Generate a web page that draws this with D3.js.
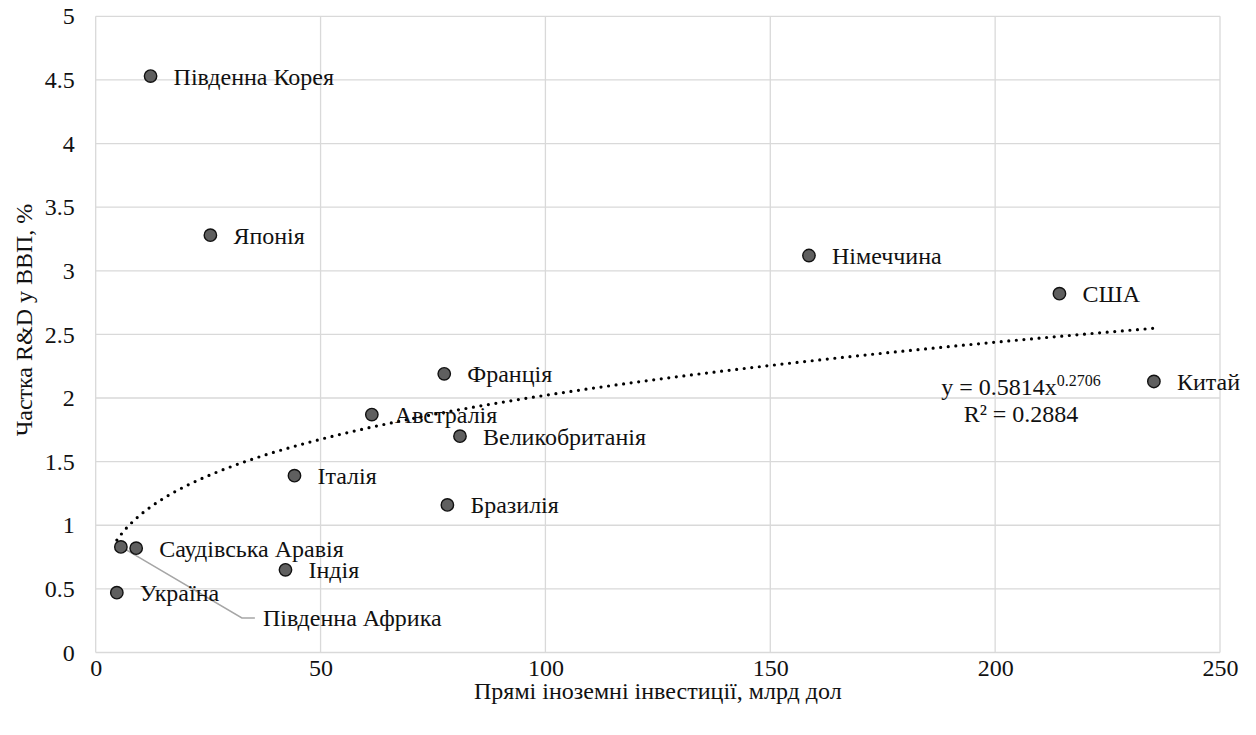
<!DOCTYPE html>
<html>
<head>
<meta charset="utf-8">
<script src="https://cdn.jsdelivr.net/npm/d3@7/dist/d3.min.js"></script>
<style>
  html, body { margin: 0; padding: 0; background: #fff; }
  svg { display: block; }
  text { font-family: "Liberation Serif", "Times New Roman", serif; fill: #111; }
</style>
</head>
<body>
<svg id="chart" width="1256" height="735"></svg>
<script>
// Foreign direct investment (bn USD) vs. R&D share of GDP (%)
const countries = ["Південна Корея", "Японія", "Німеччина", "США", "Китай", "Франція",
  "Австралія", "Великобританія", "Італія", "Бразилія", "Саудівська Аравія",
  "Південна Африка", "Індія", "Україна"];
const fdi = [12.2, 25.5, 158.6, 214.3, 235.3, 77.5, 61.4, 81.0, 44.2, 78.2, 9.0, 5.6, 42.2, 4.7];
const rdShare = [4.53, 3.28, 3.12, 2.82, 2.13, 2.19, 1.87, 1.70, 1.39, 1.16, 0.82, 0.83, 0.65, 0.47];

const xTicks = [0, 50, 100, 150, 200, 250];
const yTicks = [0, 0.5, 1, 1.5, 2, 2.5, 3, 3.5, 4, 4.5, 5];

// Power trendline y = a * x^b
const trendA = 0.5814;
const trendB = 0.2706;
const trendR2 = 0.2884;

const xTitle = "Прямі іноземні інвестиції, млрд дол";
const yTitle = "Частка R&D у ВВП, %";

const serif = '"Liberation Serif", "Times New Roman", serif';
const svg = d3.select("#chart");
const plot = { left: 95.7, right: 1220, top: 16.3, bottom: 652.5 };

const x = d3.scaleLinear().domain([0, 250]).range([plot.left, plot.right]);
const y = d3.scaleLinear().domain([0, 5]).range([plot.bottom, plot.top]);

const fontSize = 24;

// gridlines
const grid = svg.append("g").attr("stroke", "#d9d9d9").attr("stroke-width", 1.3);
grid.selectAll("line.h").data(yTicks).join("line")
  .attr("x1", plot.left).attr("x2", plot.right)
  .attr("y1", d => y(d)).attr("y2", d => y(d));
grid.selectAll("line.v").data(xTicks).join("line")
  .attr("y1", plot.top).attr("y2", plot.bottom)
  .attr("x1", d => x(d)).attr("x2", d => x(d));

// axes (labels only; grid already drawn)
const yAxis = svg.append("g")
  .attr("transform", `translate(${plot.left},0)`)
  .call(d3.axisLeft(y).tickValues(yTicks).tickSize(0).tickPadding(21).tickFormat(d3.format("~g")));
const xAxis = svg.append("g")
  .attr("transform", `translate(0,${plot.bottom})`)
  .call(d3.axisBottom(x).tickValues(xTicks).tickSize(0).tickPadding(6).tickFormat(d3.format("~g")));
[yAxis, xAxis].forEach(a => {
  a.attr("font-family", serif).attr("font-size", fontSize);
  a.select(".domain").remove();
  a.selectAll("text").attr("fill", "#111");
});

// axis titles
svg.append("text")
  .attr("x", (plot.left + plot.right) / 2)
  .attr("y", 699)
  .attr("text-anchor", "middle")
  .style("font-size", fontSize + "px")
  .text(xTitle);
svg.append("text")
  .attr("transform", `translate(32,320) rotate(-90)`)
  .attr("text-anchor", "middle")
  .style("font-size", fontSize + "px")
  .text(yTitle);

// trendline
const xMin = d3.min(fdi), xMax = d3.max(fdi);
const trendPts = d3.range(0, 201).map(i => {
  const xv = xMin + (xMax - xMin) * i / 200;
  return [xv, trendA * Math.pow(xv, trendB)];
});
svg.append("path")
  .datum(trendPts)
  .attr("fill", "none")
  .attr("stroke", "#000")
  .attr("stroke-width", 3.2)
  .attr("stroke-linecap", "round")
  .attr("stroke-dasharray", "0 7.6")
  .attr("d", d3.line().x(d => x(d[0])).y(d => y(d[1])));

// leader line for the crowded label
const data = countries.map((c, i) => ({ name: c, fdi: fdi[i], rd: rdShare[i] }));
const leaderName = "Південна Африка";
const leaderOffset = { dx: 134, dy: 71, run: 13 };
const ld = data.find(d => d.name === leaderName);
svg.append("polyline")
  .attr("fill", "none")
  .attr("stroke", "#a6a6a6")
  .attr("stroke-width", 1.5)
  .attr("points", [
    [x(ld.fdi) + 2, y(ld.rd) + 1],
    [x(ld.fdi) + leaderOffset.dx - leaderOffset.run, y(ld.rd) + leaderOffset.dy],
    [x(ld.fdi) + leaderOffset.dx, y(ld.rd) + leaderOffset.dy]
  ].map(p => p.join(",")).join(" "));

// markers
svg.append("g").selectAll("circle").data(data).join("circle")
  .attr("cx", d => x(d.fdi))
  .attr("cy", d => y(d.rd))
  .attr("r", 6.2)
  .attr("fill", "#5f5f5f")
  .attr("stroke", "#111")
  .attr("stroke-width", 1.4);

// data labels
svg.append("g").selectAll("text").data(data).join("text")
  .attr("x", d => d.name === leaderName ? x(d.fdi) + leaderOffset.dx + 8 : x(d.fdi) + 23)
  .attr("y", d => d.name === leaderName ? y(d.rd) + leaderOffset.dy : y(d.rd))
  .attr("dy", "0.35em")
  .style("font-size", fontSize + "px")
  .text(d => d.name);

// trendline equation
const eq = svg.append("text")
  .attr("x", 1021)
  .attr("y", 395)
  .attr("text-anchor", "middle")
  .style("font-size", fontSize + "px");
eq.append("tspan").text(`y = ${trendA}x`);
eq.append("tspan").attr("dy", -9).style("font-size", "16px").text(trendB);
svg.append("text")
  .attr("x", 1021)
  .attr("y", 422)
  .attr("text-anchor", "middle")
  .style("font-size", fontSize + "px")
  .text(`R² = ${trendR2}`);
</script>
</body>
</html>
